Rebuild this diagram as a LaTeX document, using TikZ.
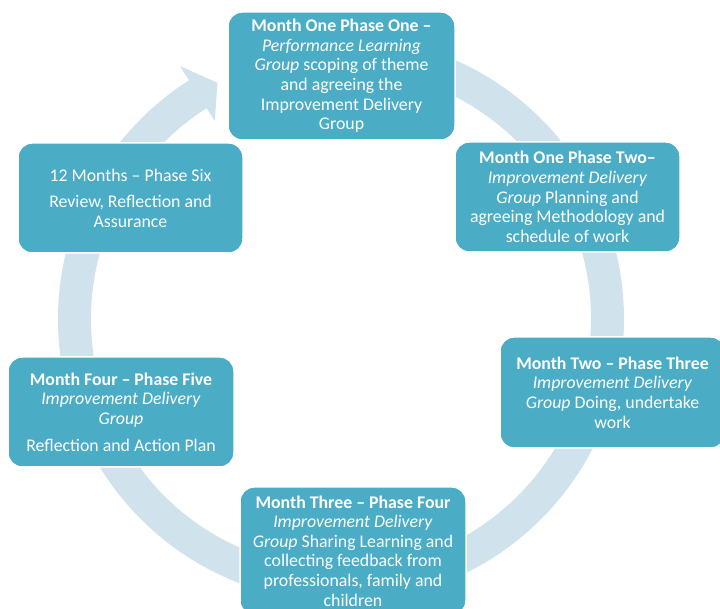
\documentclass[tikz,border=0pt]{standalone}
\usepackage{fontspec}
\setmainfont{Carlito}
\usepackage{xcolor}
\usetikzlibrary{calc}
\usetikzlibrary{positioning}
\definecolor{boxblue}{RGB}{75,172,198}
\definecolor{ringblue}{RGB}{208,227,236}

\begin{document}
\begin{tikzpicture}[x=1pt,y=1pt,semithick]
			\tikzstyle{phase}=[draw=white, line width=1.5pt, fill=boxblue, rounded corners=14pt, text=white, align=center, inner sep=0pt, minimum width=225pt, minimum height=110pt, font=\fontsize{17.8}{19.6}\selectfont]
			\useasboundingbox (0,0) rectangle (720,609);
			\clip (0,0) rectangle (720,609);
			\coordinate (O) at (341,290);
			\fill[ringblue] ($(O)+(95:283)$) arc[start angle=95, end angle=-237.5, radius=283]
				-- ($(O)+(122.5:300)$) -- ($(O)+(117.6:266.5)$) -- ($(O)+(122.5:235)$)
				-- ($(O)+(122.5:250)$) arc[start angle=122.5, end angle=455, radius=250] -- cycle;
 					 \node[phase, minimum width=227pt, minimum height=128pt] (A) at (341.5,533) {\textbf{Month One Phase One –}\\ \textit{Performance Learning}\\ \textit{Group} scoping of theme\\ and agreeing the\\ Improvement Delivery\\ Group};
 					 \node[phase] (B) at (567.5,412) {\textbf{Month One Phase Two–}\\ \textit{Improvement Delivery}\\ \textit{Group} Planning and\\ agreeing Methodology and\\ schedule of work};
 					 \node[phase, minimum height=111pt] (C) at (612.5,216.5) {\textbf{Month Two – Phase Three}\\ \textit{Improvement Delivery}\\ \textit{Group} Doing, undertake\\ work};
 					 \node[phase, minimum width=226pt, minimum height=128pt] (D) at (353,58) {\textbf{Month Three – Phase Four}\\ \textit{Improvement Delivery}\\ \textit{Group} Sharing Learning and\\ collecting feedback from\\ professionals, family and\\ children};
 					 \node[phase, minimum width=226pt] (E) at (121,197) {\textbf{Month Four – Phase Five}\\ \textit{Improvement Delivery}\\ \textit{Group}\\[7pt] Reflection and Action Plan};
 					 \node[phase] (F) at (130.5,411) {12 Months – Phase Six\\[7pt] Review, Reflection and\\ Assurance};
	\end{tikzpicture}
\end{document}
